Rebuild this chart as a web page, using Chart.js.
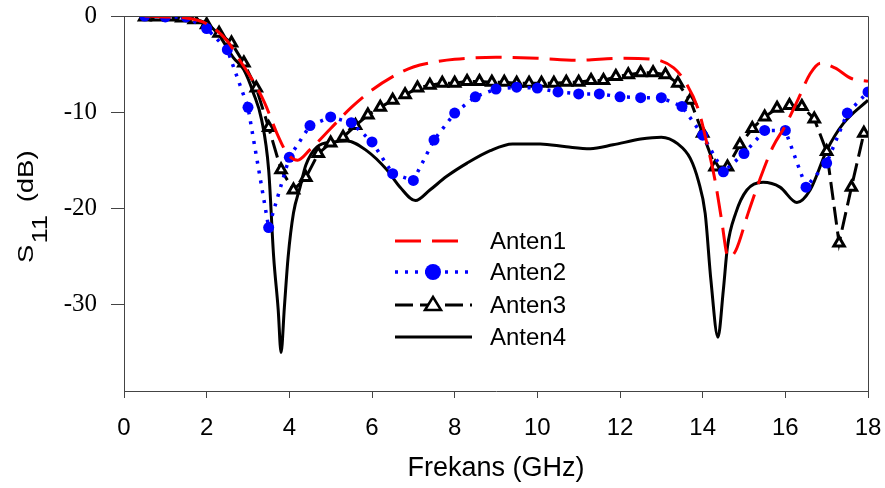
<!DOCTYPE html>
<html>
<head>
<meta charset="utf-8">
<script src="https://cdn.jsdelivr.net/npm/chart.js@4"></script>
<style>
  html, body { margin: 0; padding: 0; background: #fff; }
  #wrap { width: 885px; height: 488px; }
</style>
</head>
<body>
<div id="wrap"><canvas id="s11Chart"></canvas></div>
<script>
// S11 curves of four antennas
const seriesNames = ['Anten1', 'Anten2', 'Anten3', 'Anten4'];

const freqA1 = [0.5, 1.0, 1.5, 2.0, 2.5, 2.8, 3.1, 3.4, 3.7, 3.95, 4.2, 4.5, 5.0, 5.5, 6.0, 6.5, 7.0, 7.5, 8.0, 9.0,
    10.0, 11.0, 12.0, 12.8, 13.3, 13.6, 13.9, 14.1, 14.3, 14.45, 14.62, 14.8, 15.1, 15.4, 15.7, 16.0, 16.3, 16.6, 16.85,
    17.2, 17.6, 18.0];
const s11A1 = [0, -0.1, -0.2, -0.8, -2.6, -4.6, -6.6, -9.0, -12.2, -14.3, -15.0, -13.9, -11.7, -9.5, -7.7, -6.3, -5.3,
    -4.8, -4.5, -4.3, -4.4, -4.6, -4.4, -4.5, -5.4, -7.0, -9.8, -13.2, -17.1, -21.0, -25.1, -24.4, -20.5, -16.8, -13.6,
    -11.4, -8.75, -6.0, -4.9, -5.4, -6.5, -6.8];

const freqA2 = [0.5, 1.0, 1.5, 2.0, 2.5, 3.0, 3.5, 4.0, 4.5, 5.0, 5.5, 6.0, 6.5, 7.0, 7.5, 8.0, 8.5, 9.0, 9.5, 10.0,
    10.5, 11.0, 11.5, 12.0, 12.5, 13.0, 13.5, 14.0, 14.5, 15.0, 15.5, 16.0, 16.5, 17.0, 17.5, 18.0];
const s11A2 = [0, -0.1, -0.1, -1.3, -3.5, -9.5, -22.0, -14.7, -11.4, -10.5, -11.1, -13.1, -16.4, -17.1, -12.9, -10.1,
    -8.4, -7.6, -7.4, -7.5, -7.9, -8.1, -8.1, -8.4, -8.5, -8.5, -9.4, -12.4, -16.2, -14.3, -11.9, -11.9, -17.8, -15.3,
    -10.1, -7.9];

const freqA3 = [0.5, 0.8, 1.1, 1.4, 1.7, 2.0, 2.3, 2.6, 2.9, 3.2, 3.5, 3.8, 4.1, 4.4, 4.7, 5.0, 5.3, 5.6, 5.9, 6.2,
    6.5, 6.8, 7.1, 7.4, 7.7, 8.0, 8.3, 8.6, 8.9, 9.2, 9.5, 9.8, 10.1, 10.4, 10.7, 11.0, 11.3, 11.6, 11.9, 12.2,
    12.5, 12.8, 13.1, 13.4, 13.7, 14.0, 14.3, 14.6, 14.9, 15.2, 15.5, 15.8, 16.1, 16.4, 16.7, 17.0, 17.3, 17.6, 17.9];
const s11A3 = [-0.1, -0.1, -0.1, -0.2, -0.4, -0.9, -1.8, -2.8, -4.9, -7.5, -11.6, -16.0, -18.1, -16.8, -14.3, -13.2,
    -12.6, -11.4, -10.3, -9.5, -8.75, -8.2, -7.5, -7.2, -7.0, -7.0, -6.8, -6.8, -6.9, -6.9, -7.0, -7.0, -7.0, -7.0,
    -6.9, -6.9, -6.7, -6.7, -6.3, -6.1, -5.9, -5.9, -6.1, -7.0, -8.75, -12.2, -15.7, -15.7, -13.4, -11.7, -10.5,
    -9.6, -9.3, -9.4, -10.7, -14.1, -23.6, -17.8, -12.2];

const freqA4 = [0.5, 1.0, 1.5, 2.0, 2.3, 2.64, 2.9, 3.13, 3.33, 3.5, 3.62, 3.73, 3.8, 3.88, 3.97, 4.1, 4.26, 4.4,
    4.67, 5.06, 5.4, 5.87, 6.36, 6.68, 7.05, 7.4, 7.8, 8.3, 8.86, 9.4, 10.07, 10.7, 11.28, 11.83, 12.5, 13.0, 13.4,
    13.7, 13.9, 14.06, 14.2, 14.37, 14.5, 14.6, 14.8, 15.07, 15.46, 15.87, 16.28, 16.6, 17.0, 17.4, 18.0];
const s11A4 = [0, -0.1, -0.2, -0.8, -2.0, -4.3, -5.6, -8.0, -10.8, -16.0, -25.0, -30.5, -35.0, -30.3, -25.1, -20.5,
    -17.8, -15.5, -13.6, -13.1, -13.0, -14.0, -16.0, -17.8, -19.2, -18.1, -16.7, -15.3, -14.0, -13.3, -13.3, -13.6,
    -13.8, -13.4, -12.8, -12.6, -13.3, -14.8, -17.2, -20.5, -27.5, -33.4, -28.5, -24.0, -20.5, -18.1, -17.3, -17.8,
    -19.4, -18.1, -14.0, -11.2, -8.75];

const xTicks = [0, 2, 4, 6, 8, 10, 12, 14, 16, 18];
const yTicks = [0, -10, -20, -30];

function pairs(xs, ys) {
    return xs.map((x, i) => ({ x: x, y: ys[i] }));
}

// frame on top and right side
const framePlugin = {
    id: 'frame',
    afterDraw(chart) {
        const a = chart.chartArea;
        const ctx = chart.ctx;
        ctx.save();
        ctx.strokeStyle = '#444';
        ctx.lineWidth = 1;
        ctx.beginPath();
        ctx.moveTo(a.left, a.top + 0.5);
        ctx.lineTo(a.right + 0.5, a.top + 0.5);
        ctx.lineTo(a.right + 0.5, a.bottom);
        ctx.stroke();
        ctx.restore();
    }
};

// S11 (dB) with a real subscript
const yTitlePlugin = {
    id: 'yTitle',
    afterDraw(chart) {
        const ctx = chart.ctx;
        ctx.save();
        ctx.translate(33, 205);
        ctx.rotate(-Math.PI / 2);
        ctx.scale(1.25, 1);
        ctx.fillStyle = '#000';
        ctx.textBaseline = 'alphabetic';
        ctx.font = '22px "Liberation Sans", Arial, sans-serif';
        let x = -46.4;
        ctx.fillText('S', x, 0);
        x += ctx.measureText('S').width + 1;
        ctx.fillText('11', x, 14);
        x += ctx.measureText('11').width + 10;
        ctx.fillText('(dB)', x, 0);
        ctx.restore();
    }
};

// legend inside the plot
const legendPlugin = {
    id: 'inLegend',
    afterDraw(chart) {
        const ctx = chart.ctx;
        const rows = [241, 272, 305, 337];
        const x0 = 395, x1 = 472, tx = 490;
        ctx.save();
        chart.data.datasets.forEach((ds, i) => {
            const y = rows[i];
            ctx.strokeStyle = ds.borderColor;
            ctx.lineWidth = ds.borderWidth;
            ctx.setLineDash(ds.borderDash || []);
            ctx.beginPath();
            ctx.moveTo(x0, y);
            ctx.lineTo(i === 0 ? 462 : x1, y);
            ctx.stroke();
            ctx.setLineDash([]);
            const cx = 433;
            if (ds.pointStyle === 'circle' && ds.pointRadius > 0) {
                ctx.fillStyle = ds.pointBackgroundColor;
                ctx.beginPath();
                ctx.arc(cx, y, 8, 0, Math.PI * 2);
                ctx.fill();
            } else if (ds.pointStyle === 'triangle') {
                ctx.fillStyle = '#fff';
                ctx.strokeStyle = '#000';
                ctx.lineWidth = 2.5;
                ctx.beginPath();
                ctx.moveTo(cx, y - 8);
                ctx.lineTo(cx + 8, y + 5);
                ctx.lineTo(cx - 8, y + 5);
                ctx.closePath();
                ctx.fill();
                ctx.stroke();
            }
            ctx.fillStyle = '#000';
            ctx.font = '24px "Liberation Sans", Arial, sans-serif';
            ctx.textBaseline = 'middle';
            ctx.fillText(ds.label, tx, y + 1);
        });
        ctx.restore();
    }
};

const data = {
    datasets: [{
        label: seriesNames[0],
        data: pairs(freqA1, s11A1),
        borderColor: '#ff0000',
        borderWidth: 3,
        borderDash: [26, 11],
        pointRadius: 0,
        cubicInterpolationMode: 'monotone'
    }, {
        label: seriesNames[1],
        data: pairs(freqA2, s11A2),
        borderColor: '#0000ff',
        borderWidth: 3.5,
        borderDash: [3, 7],
        pointStyle: 'circle',
        pointRadius: 5.5,
        pointBackgroundColor: '#0000ff',
        pointBorderWidth: 0,
        tension: 0
    }, {
        label: seriesNames[2],
        data: pairs(freqA3, s11A3),
        borderColor: '#000000',
        borderWidth: 3,
        borderDash: [18, 7],
        pointStyle: 'triangle',
        pointRadius: 6,
        pointBackgroundColor: '#ffffff',
        pointBorderColor: '#000000',
        pointBorderWidth: 3,
        tension: 0
    }, {
        label: seriesNames[3],
        data: pairs(freqA4, s11A4),
        borderColor: '#000000',
        borderWidth: 3,
        pointRadius: 0,
        cubicInterpolationMode: 'monotone'
    }]
};

const config = {
    type: 'line',
    data: data,
    options: {
        responsive: true,
        maintainAspectRatio: false,
        animation: false,
        layout: {
            padding: { left: 0, top: 16, right: 17, bottom: 0 }
        },
        scales: {
            x: {
                type: 'linear',
                min: 0,
                max: 18,
                afterBuildTicks: (axis) => { axis.ticks = xTicks.map(v => ({ value: v })); },
                afterFit: (axis) => {
                    axis.height = 97;
                    axis.paddingLeft = 0;
                    axis.paddingRight = 0;
                },
                border: { display: true, color: '#444', width: 1 },
                grid: { display: true, drawOnChartArea: false, drawTicks: true, tickLength: 7, color: '#444' },
                ticks: {
                    color: '#000',
                    padding: 16,
                    maxRotation: 0,
                    font: { family: '"Liberation Sans", Arial, sans-serif', size: 24 }
                },
                title: {
                    display: true,
                    text: 'Frekans (GHz)',
                    color: '#000',
                    padding: { top: 0, bottom: 3 },
                    font: { family: '"Liberation Sans", Arial, sans-serif', size: 27 }
                }
            },
            y: {
                min: -39,
                max: 0,
                afterBuildTicks: (axis) => { axis.ticks = yTicks.map(v => ({ value: v })); },
                afterFit: (axis) => {
                    axis.width = 124;
                    axis.paddingTop = 0;
                    axis.paddingBottom = 0;
                },
                border: { display: true, color: '#444', width: 1 },
                grid: { display: true, drawOnChartArea: false, drawTicks: true, tickLength: 13, color: '#444' },
                ticks: {
                    color: '#000',
                    padding: 14,
                    font: { family: '"Liberation Serif", "Times New Roman", serif', size: 25 }
                }
            }
        },
        plugins: {
            legend: { display: false },
            tooltip: { enabled: false }
        }
    },
    plugins: [framePlugin, yTitlePlugin, legendPlugin]
};

const s11Chart = new Chart(
    document.getElementById('s11Chart'),
    config
);
</script>
</body>
</html>
